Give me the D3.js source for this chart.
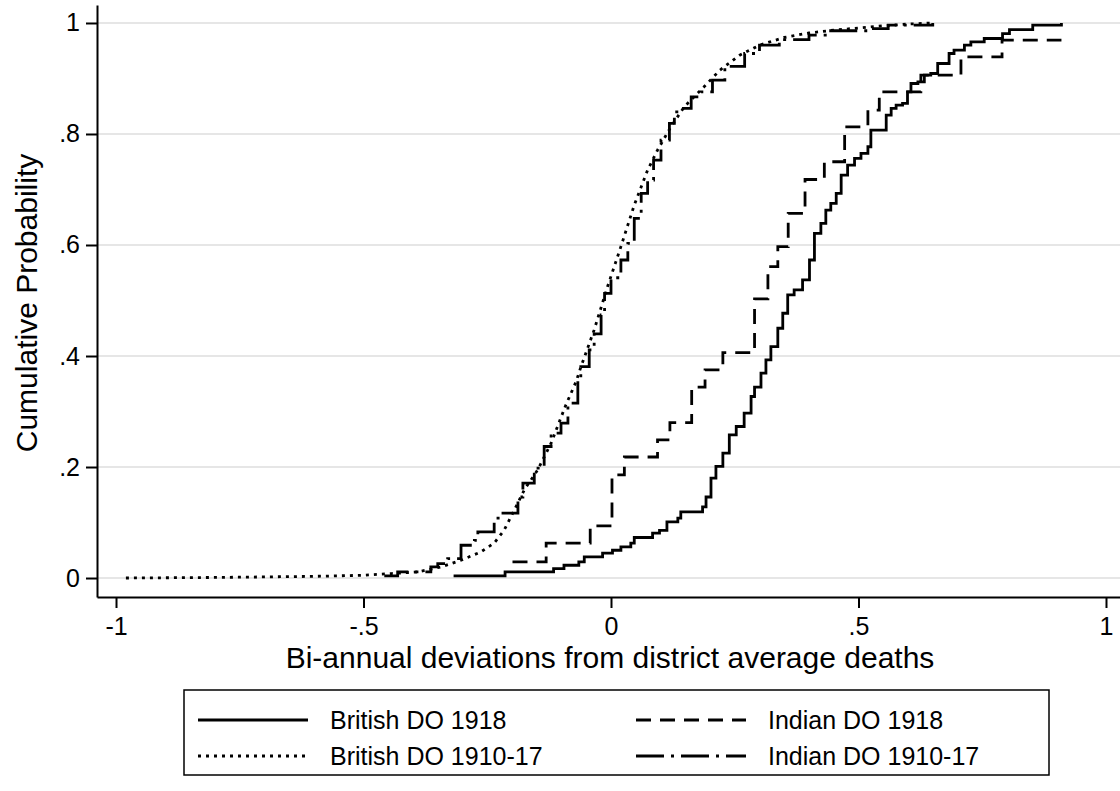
<!DOCTYPE html>
<html>
<head>
<meta charset="utf-8">
<script src="https://cdn.jsdelivr.net/npm/d3@7"></script>
<style>
  body { margin: 0; background: #fff; }
  text { font-family: "Liberation Sans", Arial, sans-serif; fill: #000; }
</style>
</head>
<body>
<svg id="chart" width="1120" height="791"></svg>
<script>

// British DO 1918 (solid)
const brit1918X = [-0.318, -0.214, -0.116, -0.095, -0.065, -0.054, -0.017, 0.003, 0.020, 0.040,
  0.047, 0.084, 0.098, 0.113, 0.135, 0.141, 0.185, 0.192, 0.202, 0.212,
  0.226, 0.239, 0.253, 0.269, 0.283, 0.290, 0.303, 0.313, 0.323, 0.337,
  0.347, 0.357, 0.370, 0.387, 0.401, 0.411, 0.424, 0.434, 0.444, 0.455,
  0.465, 0.478, 0.492, 0.505, 0.519, 0.525, 0.556, 0.566, 0.576, 0.589,
  0.599, 0.606, 0.620, 0.633, 0.646, 0.660, 0.683, 0.693, 0.714, 0.727,
  0.754, 0.791, 0.805, 0.852, 0.910];
const brit1918Y = [0.004, 0.011, 0.017, 0.023, 0.029, 0.038, 0.045, 0.050, 0.056, 0.063,
  0.073, 0.081, 0.086, 0.101, 0.108, 0.119, 0.128, 0.146, 0.180, 0.201,
  0.225, 0.258, 0.273, 0.297, 0.327, 0.344, 0.369, 0.393, 0.417, 0.450,
  0.477, 0.510, 0.519, 0.537, 0.573, 0.621, 0.639, 0.663, 0.675, 0.693,
  0.726, 0.744, 0.756, 0.765, 0.777, 0.807, 0.834, 0.846, 0.852, 0.855,
  0.876, 0.891, 0.894, 0.906, 0.909, 0.927, 0.945, 0.951, 0.960, 0.966,
  0.972, 0.981, 0.988, 0.996, 1.000];

// Indian DO 1918 (dashed)
const ind1918X = [-0.199, -0.131, -0.042, 0.002, 0.027, 0.094, 0.119, 0.163, 0.190, 0.226,
  0.290, 0.317, 0.337, 0.358, 0.392, 0.431, 0.472, 0.519, 0.542, 0.626,
  0.707, 0.790, 0.910];
const ind1918Y = [0.029, 0.063, 0.094, 0.186, 0.218, 0.249, 0.280, 0.344, 0.375, 0.406,
  0.503, 0.561, 0.597, 0.657, 0.718, 0.750, 0.813, 0.843, 0.876, 0.906,
  0.939, 0.969, 0.969];

// British DO 1910-17 (dotted)
const brit1017X = [-0.980, -0.800, -0.600, -0.498, -0.444, -0.390, -0.343, -0.303, -0.263, -0.236,
  -0.216, -0.195, -0.175, -0.148, -0.121, -0.092, -0.070, -0.061, -0.034, -0.007,
  0.020, 0.047, 0.074, 0.094, 0.121, 0.148, 0.188, 0.220, 0.260, 0.300,
  0.350, 0.400, 0.450, 0.500, 0.550, 0.600, 0.650];
const brit1017Y = [0.000, 0.001, 0.003, 0.005, 0.008, 0.011, 0.020, 0.032, 0.047, 0.063,
  0.086, 0.123, 0.159, 0.195, 0.243, 0.310, 0.355, 0.380, 0.447, 0.525,
  0.597, 0.672, 0.735, 0.771, 0.813, 0.849, 0.885, 0.915, 0.942, 0.960,
  0.974, 0.982, 0.987, 0.991, 0.995, 0.998, 1.000];

// Indian DO 1910-17 (long dash - dot)
const ind1017X = [-0.458, -0.431, -0.364, -0.350, -0.330, -0.303, -0.276, -0.269, -0.236, -0.222,
  -0.188, -0.178, -0.155, -0.135, -0.121, -0.101, -0.087, -0.067, -0.061, -0.044,
  -0.034, -0.020, -0.013, 0.000, 0.020, 0.034, 0.047, 0.061, 0.074, 0.086,
  0.101, 0.118, 0.128, 0.141, 0.162, 0.182, 0.205, 0.230, 0.270, 0.300,
  0.340, 0.400, 0.440, 0.520, 0.560, 0.650];
const ind1017Y = [0.004, 0.011, 0.020, 0.026, 0.035, 0.059, 0.068, 0.083, 0.108, 0.117,
  0.146, 0.171, 0.198, 0.237, 0.261, 0.279, 0.315, 0.357, 0.381, 0.411,
  0.440, 0.474, 0.513, 0.541, 0.573, 0.603, 0.648, 0.693, 0.717, 0.753,
  0.789, 0.819, 0.840, 0.846, 0.867, 0.876, 0.897, 0.922, 0.945, 0.960,
  0.970, 0.978, 0.986, 0.990, 0.996, 1.000];

const legendNames = ["British DO 1918", "Indian DO 1918", "British DO 1910-17", "Indian DO 1910-17"];
const xTicks = [-1, -0.5, 0, 0.5, 1];
const yTicks = [0, 0.2, 0.4, 0.6, 0.8, 1];

const series = [
  { name: legendNames[0], xs: brit1918X, ys: brit1918Y, dash: null, step: true },
  { name: legendNames[1], xs: ind1918X, ys: ind1918Y, dash: "15,9", step: true },
  { name: legendNames[2], xs: brit1017X, ys: brit1017Y, dash: "3,5", step: false },
  { name: legendNames[3], xs: ind1017X, ys: ind1017Y, dash: "28,7,3,7", step: true }
];

const svg = d3.select("#chart");

// plot region 97..1120 x 5..597
let x = d3.scaleLinear().domain([-1.0384, 1.0283]).range([97, 1120]);
let y = d3.scaleLinear().domain([-0.0342, 1.0324]).range([597, 5]);

// Stata style labels: "-.5", ".2", "0", "1"
const fmt = d => {
  if (Number.isInteger(d)) return String(d).replace("\u2212", "-");
  return String(d).replace("0.", ".");
};

// gridlines
svg.append("g")
  .selectAll("line")
  .data(yTicks)
  .join("line")
    .attr("x1", 97).attr("x2", 1120)
    .attr("y1", d => y(d)).attr("y2", d => y(d))
    .attr("stroke", "#e6e6e6")
    .attr("stroke-width", 2);

// axes
const xAxis = svg.append("g")
  .attr("transform", "translate(0,597)")
  .call(d3.axisBottom(x).tickValues(xTicks).tickFormat(fmt).tickSize(11).tickSizeOuter(0));
xAxis.selectAll("text").attr("font-size", 25).attr("dy", null).attr("y", 38);

const yAxis = svg.append("g")
  .attr("transform", "translate(97,0)")
  .call(d3.axisLeft(y).tickValues(yTicks).tickFormat(fmt).tickSize(11).tickSizeOuter(0));
yAxis.selectAll("text").attr("font-size", 25).attr("x", -17);

svg.selectAll(".domain, .tick line").attr("stroke", "#000").attr("stroke-width", 2);
svg.selectAll(".tick text").attr("font-family", "Liberation Sans, Arial, sans-serif").attr("fill", "#000");

// axis titles
svg.append("text")
  .attr("x", 610).attr("y", 668)
  .attr("text-anchor", "middle")
  .attr("font-size", 30)
  .text("Bi-annual deviations from district average deaths");

svg.append("text")
  .attr("transform", "translate(37,303) rotate(-90)")
  .attr("text-anchor", "middle")
  .attr("font-size", 30)
  .text("Cumulative Probability");

// curves
series.forEach(s => {
  const pts = s.xs.map((v, i) => [v, s.ys[i]]);
  const line = d3.line()
    .x(d => x(d[0]))
    .y(d => y(d[1]))
    .curve(s.step ? d3.curveStepAfter : d3.curveLinear);
  svg.append("path")
    .datum(pts)
    .attr("fill", "none")
    .attr("stroke", "#000")
    .attr("stroke-width", 2.8)
    .attr("stroke-dasharray", s.dash)
    .attr("d", line);
});

// legend
const leg = svg.append("g");
leg.append("rect")
  .attr("x", 184).attr("y", 690)
  .attr("width", 865).attr("height", 85)
  .attr("fill", "#fff")
  .attr("stroke", "#000")
  .attr("stroke-width", 1.5);

const colX = [198, 636];
const rowY = [720, 756];
series.forEach((s, i) => {
  const cx = colX[i % 2], cy = rowY[Math.floor(i / 2)];
  leg.append("line")
    .attr("x1", cx).attr("x2", cx + 110)
    .attr("y1", cy).attr("y2", cy)
    .attr("stroke", "#000")
    .attr("stroke-width", 2.8)
    .attr("stroke-dasharray", s.dash);
  leg.append("text")
    .attr("x", cx + 132).attr("y", cy)
    .attr("dy", "0.35em")
    .attr("font-size", 25)
    .text(s.name);
});
</script>
</body>
</html>
